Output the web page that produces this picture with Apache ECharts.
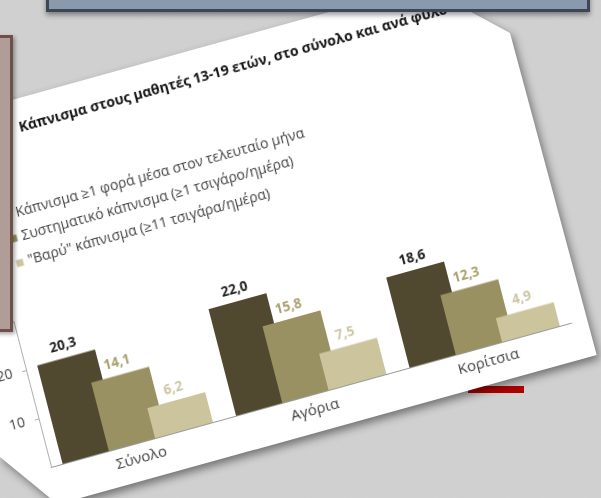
<!DOCTYPE html>
<html><head><meta charset="utf-8">
<script src="https://cdn.jsdelivr.net/npm/echarts/dist/echarts.min.js"></script>
<style>
html,body{margin:0;padding:0;width:601px;height:498px;overflow:hidden;}
body{background:#d2d2d2;position:relative;}
#bg{position:absolute;left:0;top:0;width:601px;height:498px;
 background-image:url("data:image/svg+xml;utf8,<svg xmlns='http://www.w3.org/2000/svg' width='601' height='498'><filter id='n'><feTurbulence type='fractalNoise' baseFrequency='0.9' numOctaves='2' stitchTiles='stitch'/><feColorMatrix type='matrix' values='0 0 0 0 0.55  0 0 0 0 0.55  0 0 0 0 0.55  0 0 0 0.3 0'/></filter><rect width='100%' height='100%' filter='url(%23n)'/></svg>");}
#redbar{position:absolute;left:468px;top:386px;width:56px;height:7px;background:#b00000;}
#paperwrap{position:absolute;left:0;top:0;width:601px;height:498px;filter:drop-shadow(3px 4px 4px rgba(0,0,0,0.45));}
#paper{position:absolute;left:0;top:0;width:601px;height:498px;background:#fff;overflow:hidden;
 clip-path:polygon(-60px 119.8px, 423px -14px, 510px 33px, 596.7px 355px, 57.7px 504.3px, -60px 408px);}
#chart{position:absolute;left:-9.3px;top:66.7px;width:640px;height:440px;transform-origin:60px 400px;transform:matrix(0.9636,-0.2672,0.25,0.9682,0,0);}
#bluebox{position:absolute;left:46px;top:-10px;width:538px;height:16px;background:#8a99ac;border:3px solid #3b4656;box-shadow:0 3px 5px rgba(0,0,0,0.4);}
#brownbox{position:absolute;left:-10px;top:35px;width:16.7px;height:290.7px;background:#b09d97;border:3px solid #6e5048;box-shadow:2px 2px 4px rgba(0,0,0,0.35);}
</style></head>
<body>
<div id="bg"></div>
<div id="redbar"></div>
<div id="paperwrap"><div id="paper"><div id="chart"></div></div></div>
<div id="bluebox"></div>
<div id="brownbox"></div>
<script>
const chartTitle = 'Κάπνισμα στους μαθητές 13-19 ετών, στο σύνολο και ανά φύλο';
const categories = ['Σύνολο', 'Αγόρια', 'Κορίτσια'];
const seriesNames = ['Κάπνισμα ≥1 φορά μέσα στον τελευταίο μήνα', 'Συστηματικό κάπνισμα (≥1 τσιγάρο/ημέρα)', '"Βαρύ" κάπνισμα (≥11 τσιγάρα/ημέρα)'];
const monthly = [20.3, 22.0, 18.6];
const systematic = [14.1, 15.8, 12.3];
const heavy = [6.2, 7.5, 4.9];
const yTicks = [0, 10, 20, 30];

const barColors = ['#514830', '#9a9162', '#ccc49c'];
const labelColors = ['#1e1e1e', '#aaa06e', '#cdc6a5'];
const legendTops = [139, 163, 188];
const values = [monthly, systematic, heavy];
const fmt = p => p.value.toFixed(1).replace('.', ',');

const chart = echarts.init(document.getElementById('chart'), null, {renderer: 'canvas'});
chart.setOption({
  animation: false,
  textStyle: {fontFamily: 'Open Sans'},
  title: {text: chartTitle, left: 114, top: 58, padding: 0, textStyle: {fontSize: 14, fontWeight: 'bold', color: '#141414', fontFamily: 'Open Sans'}},
  legend: seriesNames.map((n, i) => ({
    orient: 'vertical', left: 77.5, top: legendTops[i], padding: 0, itemWidth: 7, itemHeight: 7, icon: 'rect',
    textStyle: {fontSize: 14, color: '#404040', fontFamily: 'Open Sans'}, data: [n]})),
  grid: {left: 60, top: 250, width: 540, height: 150},
  xAxis: {type: 'category', data: categories,
    axisLine: {lineStyle: {color: '#9a9a9a'}},
    axisTick: {length: 5, lineStyle: {color: '#9a9a9a'}},
    axisLabel: {fontSize: 15, color: '#404040', margin: 8, fontFamily: 'Open Sans'}},
  yAxis: {type: 'value', min: yTicks[0], max: yTicks[yTicks.length - 1], interval: yTicks[1] - yTicks[0],
    axisLine: {show: true, lineStyle: {color: '#b0b0b0'}},
    axisTick: {show: true, length: 4, lineStyle: {color: '#b0b0b0'}},
    splitLine: {show: false},
    axisLabel: {showMinLabel: false, fontSize: 14, color: '#404040', margin: 14, fontFamily: 'Open Sans'}},
  series: values.map((v, i) => ({
    name: seriesNames[i], type: 'bar', data: v, barWidth: 60, barGap: '-20%',
    itemStyle: {color: barColors[i]},
    label: {show: true, position: 'top', distance: 5, formatter: fmt, fontSize: 13.5, fontWeight: 'bold', color: labelColors[i], fontFamily: 'Open Sans'}
  }))
});
</script>
</body></html>
